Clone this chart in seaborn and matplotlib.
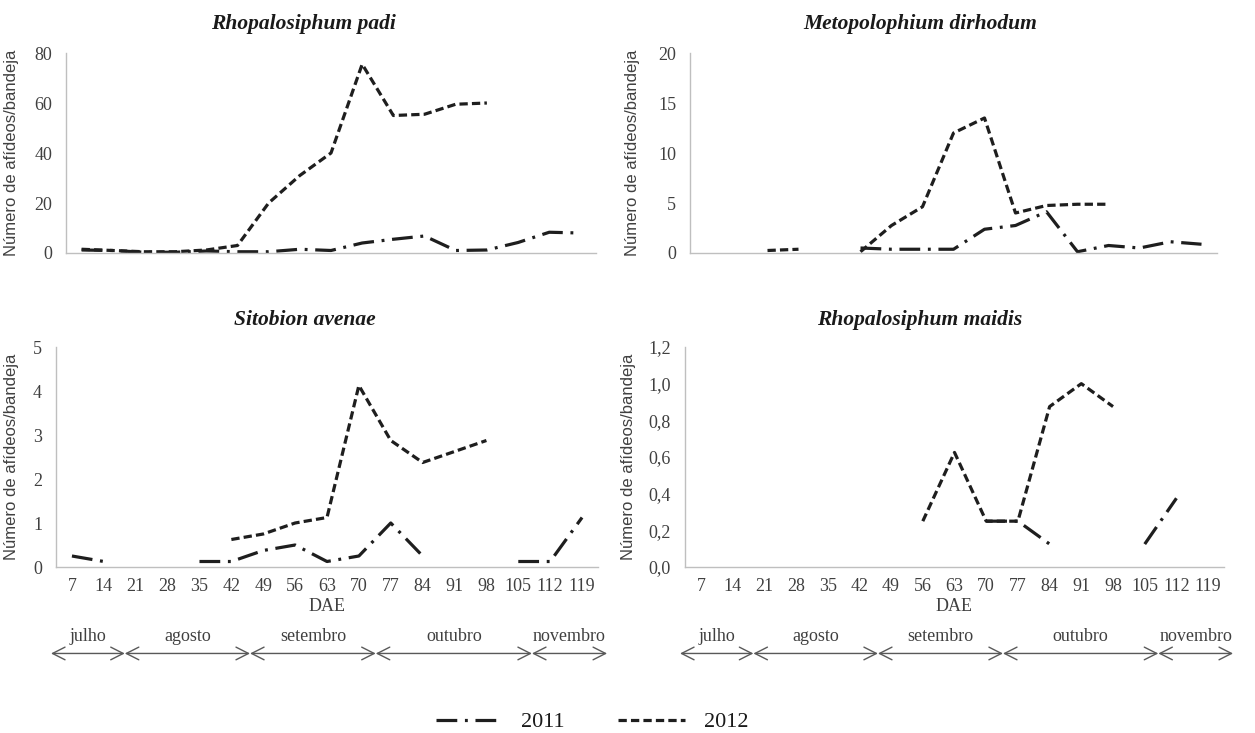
import numpy as np
import pandas as pd
import matplotlib
matplotlib.use("Agg")
import matplotlib.pyplot as plt
from matplotlib.lines import Line2D
import seaborn as sns

nan = np.nan

# ---------------- data ----------------
dae = [7, 14, 21, 28, 35, 42, 49, 56, 63, 70, 77, 84, 91, 98, 105, 112, 119]

padi_2011 = [1.2, 1.0, 0.3, 0.3, 0.8, 0.5, 0.5, 1.5, 1.0, 4.0, 5.5, 6.8, 1.0, 1.2, 4.2, 8.3, 8.0]
padi_2012 = [1.5, 1.0, 0.5, 0.5, 1.2, 3.0, 20.0, 31.0, 40.0, 75.5, 55.0, 55.5, 59.5, 60.0, nan, nan, nan]

dirhodum_2011 = [nan, nan, nan, nan, nan, 0.5, 0.375, 0.375, 0.375, 2.375, 2.75, 4.125, 0.125, 0.75, 0.5, 1.125, 0.875]
dirhodum_2012 = [nan, nan, 0.25, 0.375, nan, 0.125, 2.75, 4.625, 12.0, 13.5, 4.0, 4.75, 4.875, 4.875, nan, nan, nan]

avenae_2011 = [0.25, 0.125, nan, nan, 0.125, 0.125, 0.375, 0.5, 0.125, 0.25, 1.0, 0.25, nan, nan, 0.125, 0.125, 1.125]
avenae_2012 = [nan, nan, nan, nan, nan, 0.625, 0.75, 1.0, 1.125, 4.125, 2.875, 2.375, 2.625, 2.875, nan, nan, nan]

maidis_2011 = [nan, nan, nan, nan, nan, nan, nan, nan, nan, 0.25, 0.25, 0.125, nan, nan, 0.125, 0.375, nan]
maidis_2012 = [nan, nan, nan, nan, nan, nan, nan, 0.25, 0.625, 0.25, 0.25, 0.875, 1.0, 0.875, nan, nan, nan]

titles = ["Rhopalosiphum padi", "Metopolophium dirhodum", "Sitobion avenae", "Rhopalosiphum maidis"]
years = ["2011", "2012"]
ylabel = "Número de afídeos/bandeja"
xlabel = "DAE"
months = ["julho", "agosto", "setembro", "outubro", "novembro"]
month_edges = [2.4, 18.6, 46.1, 73.7, 108.0, 124.5]

yticks_list = [
    [0, 20, 40, 60, 80],
    [0, 5, 10, 15, 20],
    [0, 1, 2, 3, 4, 5],
    [0, 0.2, 0.4, 0.6, 0.8, 1.0, 1.2],
]
ytick_labels_list = [
    ["0", "20", "40", "60", "80"],
    ["0", "5", "10", "15", "20"],
    ["0", "1", "2", "3", "4", "5"],
    ["0,0", "0,2", "0,4", "0,6", "0,8", "1,0", "1,2"],
]
series = [
    (padi_2011, padi_2012),
    (dirhodum_2011, dirhodum_2012),
    (avenae_2011, avenae_2012),
    (maidis_2011, maidis_2012),
]

# ---------------- style ----------------
sns.set_theme(style="white")
plt.rcParams["font.family"] = ["Liberation Serif", "DejaVu Serif"]

LINE_C = "#1e1e1e"
TEXT_C = "#404040"
SPINE_C = "#bfbfbf"
LW = 2.3
styles = {
    "2011": (0, (6.5, 2.4, 0.9, 2.4)),
    "2012": (0, (2.6, 1.3)),
}

W, H = 1255, 733
fig = plt.figure(figsize=(W / 100, H / 100), dpi=100)


def frac(l, t, r, b):
    return [l / W, 1 - b / H, (r - l) / W, (b - t) / H]


rects = [
    frac(66, 53, 596, 253),
    frac(690, 53, 1217, 253),
    frac(56, 347, 598, 567),
    frac(685, 347, 1224, 567),
]
title_pos = [(303, 24), (920, 24), (305, 320), (920, 320)]
ylabel_x = [19, 640, 19, 636]


def segments(x, y):
    df = pd.DataFrame({"DAE": x, "val": y})
    grp = df["val"].isna().cumsum()
    out = []
    for _, g in df[df["val"].notna()].groupby(grp[df["val"].notna()]):
        if len(g) >= 2:
            out.append(g)
    return out


for i, (rect, ttl) in enumerate(zip(rects, titles)):
    ax = fig.add_axes(rect)
    for yr, vals in zip(years, series[i]):
        for seg in segments(dae, vals):
            sns.lineplot(data=seg, x="DAE", y="val", ax=ax, color=LINE_C, lw=LW,
                         linestyle=styles[yr], estimator=None, sort=False,
                         legend=False, dash_capstyle="butt")
    ax.set_xlim(3.5, 122.5)
    ax.set_ylim(yticks_list[i][0], yticks_list[i][-1])
    ax.set_yticks(yticks_list[i])
    ax.set_yticklabels(ytick_labels_list[i], fontsize=13, color=TEXT_C)
    ax.set_xticks(dae)
    bottom = i >= 2
    if bottom:
        ax.set_xticklabels([str(d) for d in dae], fontsize=13, color=TEXT_C)
        ax.set_xlabel(xlabel, fontsize=13, color=TEXT_C, labelpad=2)
    else:
        ax.set_xticklabels([])
        ax.set_xlabel("")
    ax.tick_params(axis="both", length=0)
    ax.tick_params(axis="y", pad=10)
    ax.tick_params(axis="x", pad=8)
    for s in ["top", "right"]:
        ax.spines[s].set_visible(False)
    for s in ["left", "bottom"]:
        ax.spines[s].set_color(SPINE_C)
        ax.spines[s].set_linewidth(1.0)
    ax.grid(False)
    ax.set_ylabel(ylabel, fontsize=12, color=TEXT_C, fontfamily=["Liberation Sans", "DejaVu Sans"])
    xl = (ylabel_x[i] - rect[0] * W) / (rect[2] * W)
    ax.yaxis.set_label_coords(xl, 0.5)

    tx, ty = title_pos[i]
    fig.text(tx / W, 1 - ty / H, ttl, ha="center", va="center", fontsize=15.5,
             fontweight="bold", fontstyle="italic", color="#1a1a1a")

    if bottom:
        trans = ax.get_xaxis_transform()
        for m, x0, x1 in zip(months, month_edges[:-1], month_edges[1:]):
            ax.annotate("", xy=(x1, -0.393), xytext=(x0, -0.393), xycoords=trans,
                        textcoords=trans, annotation_clip=False,
                        arrowprops=dict(arrowstyle="<->,head_length=0.75,head_width=0.38",
                                        color="#595959", lw=1.0, shrinkA=0, shrinkB=0))
            ax.text((x0 + x1) / 2, -0.318, m, transform=trans, ha="center", va="center",
                    fontsize=13, color=TEXT_C, clip_on=False)

handles = [Line2D([], [], color=LINE_C, lw=LW, linestyle=styles[y], dash_capstyle="butt") for y in years]
fig.legend(handles, years, loc="center", bbox_to_anchor=(592 / W, 1 - 722 / H), ncol=2,
           frameon=False, handlelength=3.0, columnspacing=2.4, handletextpad=0.85,
           prop={"family": "Liberation Serif", "size": 16}, labelcolor="#1a1a1a")

fig.savefig("out.png", dpi=100)
